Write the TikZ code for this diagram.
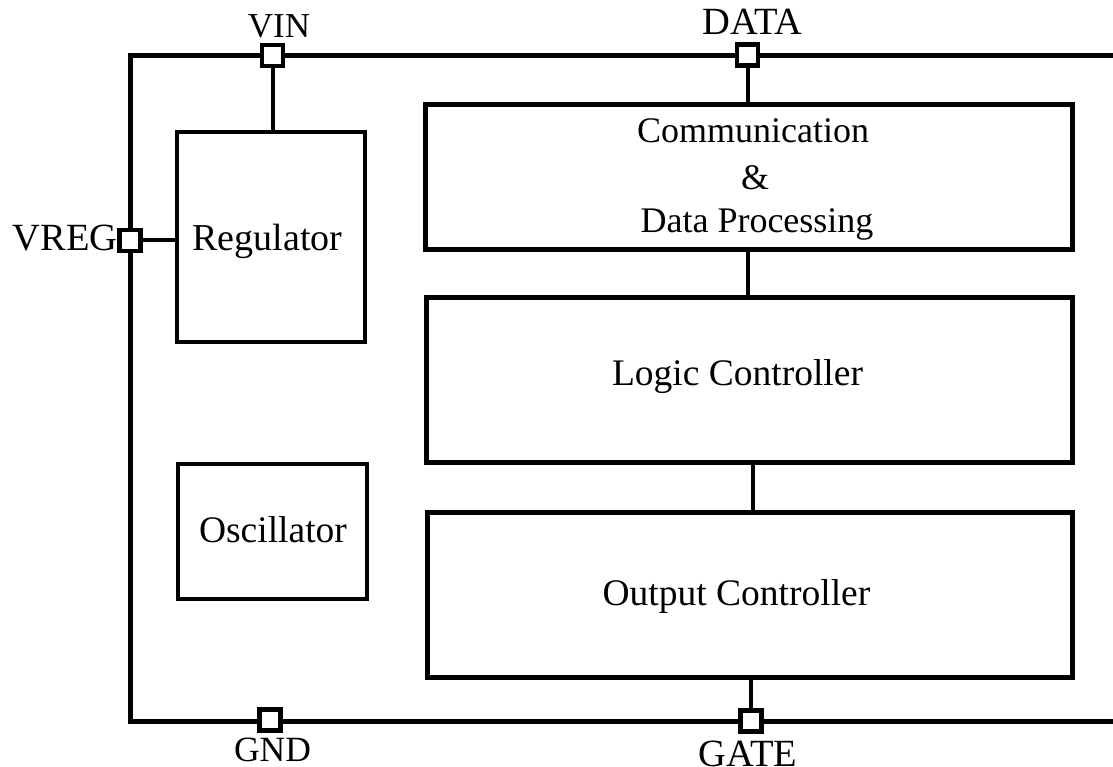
\documentclass[tikz,border=0pt]{standalone}
\usepackage{fontspec}
\setmainfont{Liberation Serif}
\newcommand{\fs}[1]{\fontsize{#1}{45}\selectfont}
\begin{document}
\begin{tikzpicture}[x=1pt,y=-1pt,
  every node/.style={inner sep=0pt},
  bigbox/.style={draw, line width=5pt},
  smallbox/.style={draw, line width=3.5pt},
  pin/.style={draw, fill=white, line width=4.5pt, minimum size=21pt},
  wire/.style={line width=4pt},
  frame/.style={line width=5pt}]
\useasboundingbox (0,0) rectangle (1113,767);
% outer frame (open to the right)
\coordinate (ftr) at (1125,55.5);
\coordinate (ftl) at (130,55.5);
\coordinate (fbl) at (130,721);
\coordinate (fbr) at (1125,721);
\draw[frame] (ftr) -- (ftl) -- (fbl) -- (fbr);
% blocks
\node[smallbox, minimum width=188pt, minimum height=210pt] (reg) at (271,237) {};
\node[smallbox, minimum width=189pt, minimum height=135pt] (osc) at (272.5,531.5) {};
\node[bigbox, minimum width=647pt, minimum height=145pt] (comm) at (748.5,177.5) {};
\node[bigbox, minimum width=646pt, minimum height=165pt] (logic) at (749,379.5) {};
\node[bigbox, minimum width=645pt, minimum height=165pt] (out) at (749.5,594.5) {};
% block texts
\node[anchor=base, font=\fs{38}] (regt) at (267.5,251) {Regulator};
\node[anchor=base, font=\fs{37.5}] (osct) at (273,542) {Oscillator};
\node[anchor=base, font=\fs{36}] (commt1) at (753,143) {Communication};
\node[anchor=base, font=\fs{36}] (commt2) at (755,190) {\&};
\node[anchor=base, font=\fs{36}] (commt3) at (757,233) {Data Processing};
\node[anchor=base, font=\fs{37.5}] (logict) at (737.5,385) {Logic Controller};
\node[anchor=base, font=\fs{37.5}] (outt) at (736.5,605) {Output Controller};
% pins
\node[pin] (vin) at (272.5,55.5) {};
\node[pin] (data) at (747.5,55) {};
\node[pin] (vreg) at (130,240.5) {};
\node[pin] (gnd) at (270,720) {};
\node[pin] (gate) at (751,721) {};
% wires
\draw[wire] (vin.south) -- (vin.south |- reg.north);
\draw[wire] (data.south) -- (data.south |- comm.north);
\draw[wire] (vreg.east) -- (vreg.east -| reg.west);
\draw[wire] (comm.south -| 748,0) -- (logic.north -| 748,0);
\draw[wire] (logic.south -| 753,0) -- (out.north -| 753,0);
\draw[wire] (out.south -| gate) -- (gate.north);
% pins on top of the wires
\node[pin] at (vin) {};
\node[pin] at (data) {};
\node[pin] at (vreg) {};
\node[pin] at (gnd) {};
\node[pin] at (gate) {};
% labels
\node[anchor=base, font=\fs{35}] (vinl) at (279,38) {VIN};
\node[anchor=base, font=\fs{38.5}] (datal) at (752.5,35) {DATA};
\node[anchor=base east, font=\fs{38.5}] (vregl) at (118,251) {VREG};
\node[anchor=base, font=\fs{35.5}] (gndl) at (272.5,761) {GND};
\node[anchor=base, font=\fs{38.5}] (gatel) at (748,766) {GATE};
\end{tikzpicture}
\end{document}
